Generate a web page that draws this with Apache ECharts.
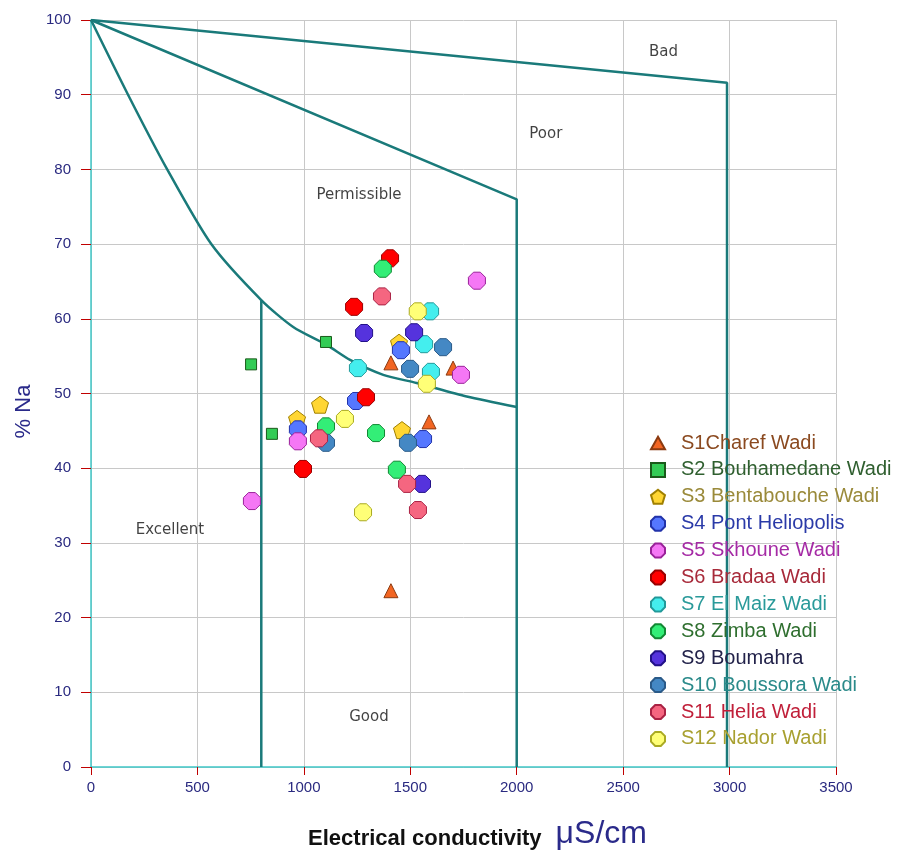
<!DOCTYPE html>
<html>
<head>
<meta charset="utf-8">
<script src="https://cdn.jsdelivr.net/npm/echarts@6/dist/echarts.min.js"></script>
<style>
html,body{margin:0;padding:0;background:#fff;}
#main{width:917px;height:852px;}
</style>
</head>
<body>
<div id="main"></div>
<script>
var chart = echarts.init(document.getElementById('main'));

// series names
var names = ['S1Charef Wadi','S2 Bouhamedane Wadi','S3 Bentabouche Wadi','S4 Pont Heliopolis',
  'S5 Skhoune Wadi','S6 Bradaa Wadi','S7 El Maiz Wadi','S8 Zimba Wadi','S9 Boumahra',
  'S10 Boussora Wadi','S11 Helia Wadi','S12 Nador Wadi'];

// [EC, %Na] for every station
var s1 = [[1409,54.1],[1701,53.4],[1588,46.2],[1409,23.6]];
var s2 = [[752,53.9],[1104,56.9],[850,44.6]];
var s3 = [[1447,56.8],[1076,48.5],[968,46.6],[1461,45.1]];
var s4 = [[1456,55.8],[1245,49.0],[972,45.2],[1560,43.9]];
var s5 = [[1813,65.1],[1738,52.5],[972,43.6],[756,35.6]];
var s6 = [[1405,68.1],[1236,61.6],[1292,49.5],[996,39.9]];
var s7 = [[1593,61.0],[1565,56.6],[1254,53.4],[1597,52.9]];
var s8 = [[1371,66.7],[1104,45.6],[1339,44.7],[1437,39.8]];
var s9 = [[1283,58.1],[1518,58.2],[1555,37.9]];
var s10 = [[1654,56.2],[1499,53.3],[1104,43.4],[1489,43.4]];
var s11 = [[1367,63.0],[1071,44.0],[1485,37.9],[1536,34.4]];
var s12 = [[1535,61.0],[1578,51.3],[1193,46.6],[1278,34.1]];
var stations = [s1,s2,s3,s4,s5,s6,s7,s8,s9,s10,s11,s12];

// Wilcox class boundaries
var lineBad = [[0,100],[2988,91.6],[2988,0]];
var linePoor = [[0,100],[2000,76],[2000,0]];
var curvePerm = [[0,100],[174,90],[358,80],[565,70],[800,62.5],[950,58.9],[1107,56.5],
  [1217,54.5],[1373,52.5],[1530,51.4],[1765,49.6],[2000,48.2]];
var lineGood = [[800,62.5],[800,0]];

// class names
var zones = [[2690,95.7,'Bad'],[2137,84.7,'Poor'],[1259,76.6,'Permissible'],[371,31.7,'Excellent'],[1306,6.7,'Good']];

var octa = 'path://M30,0 L70,0 L100,30 L100,70 L70,100 L30,100 L0,70 L0,30 Z';
var penta = 'path://M50,0 L100,38 L81,100 L19,100 L0,38 Z';
var tri = 'path://M50,0 L100,90 L0,90 Z';
var square = 'path://M0,0 L100,0 L100,100 L0,100 Z';
var symbols = [tri,square,penta,octa,octa,octa,octa,octa,octa,octa,octa,octa];
var sizes = [14,11,17,17,17,17,17,17,17,17,17,17];
var fills = ['#f26522','#33cc55','#ffd633','#5577ff','#f577f5','#ff0000','#44eeee','#33ee77','#5533dd','#4488c4','#f56680','#ffff77'];
var borders = ['#8b3a10','#1a5a1a','#a08000','#2233aa','#992299','#990000','#229999','#118833','#221188','#2a5a88','#aa2244','#aaaa22'];
var textColors = ['#8b4a20','#2f5f2f','#9a8a3a','#2a3aa8','#a52aa5','#a82a3a','#2a9a9a','#2f6f2f','#22224a','#2a8a8a','#c0203a','#a8a030'];

var series = [];
[[lineBad, false], [linePoor, false], [curvePerm, 0.25], [lineGood, false]].forEach(function (d) {
  series.push({
    type: 'line', data: d[0], smooth: d[1], symbol: 'none', silent: true, z: 1,
    lineStyle: {color: '#1a7a7a', width: 2.5}
  });
});
series.push({
  type: 'scatter', silent: true, symbolSize: 0, z: 1,
  data: zones.map(function (z) { return [z[0], z[1], z[2]]; }),
  label: {show: true, position: 'inside', formatter: function (p) { return p.data[2]; },
    color: '#111', fontSize: 15, fontFamily: 'DejaVu Sans, sans-serif'}
});
stations.forEach(function (d, i) {
  series.push({
    name: names[i], type: 'scatter', data: d, symbol: symbols[i], symbolSize: sizes[i], z: 3,
    itemStyle: {color: fills[i], borderColor: borders[i], borderWidth: 1, opacity: 1}
  });
});

var option = {
  backgroundColor: '#fff',
  animation: false,
  grid: {left: 91, right: 81, top: 20, bottom: 85, containLabel: false, outerBoundsMode: 'none'},
  legend: {
    orient: 'vertical', left: 650, top: 433, padding: 0, itemGap: 6.9, itemWidth: 14, itemHeight: 14,
    textStyle: {fontSize: 20, fontFamily: 'Liberation Sans, Arial, sans-serif', padding: [0, 0, 0, 11]},
    data: names.map(function (n, i) { return {name: n, textStyle: {color: textColors[i]}}; })
  },
  xAxis: {
    type: 'value', min: 0, max: 3500, interval: 500,
    name: '{a|Electrical conductivity}{b|μS/cm}', nameLocation: 'middle', nameGap: 51,
    nameTextStyle: {rich: {
      a: {fontSize: 22, fontWeight: 'bold', color: '#111', fontFamily: 'Liberation Sans, Arial, sans-serif',
        verticalAlign: 'bottom', padding: [0, 0, 0, 28]},
      b: {fontSize: 32, color: '#2a2a8a', fontFamily: 'Liberation Sans, Arial, sans-serif',
        verticalAlign: 'bottom', padding: [0, 0, 0, 14]}
    }},
    axisLine: {onZero: false, lineStyle: {color: '#40c8c8', width: 1.5}},
    axisTick: {show: true, length: 8, lineStyle: {color: '#c00000'}},
    axisLabel: {color: '#2a2a80', fontSize: 15, margin: 13, fontFamily: 'Liberation Sans, Arial, sans-serif',
      formatter: function (v) { return String(v); }},
    splitLine: {show: true, lineStyle: {color: '#c8c8c8'}}
  },
  yAxis: {
    type: 'value', min: 0, max: 100, interval: 10,
    name: '% Na', nameLocation: 'middle', nameGap: 56, nameRotate: 90,
    nameTextStyle: {fontSize: 22, color: '#2a2a8a', fontFamily: 'Liberation Sans, Arial, sans-serif',
      padding: [0, 36, 0, 0]},
    axisLine: {show: true, onZero: false, lineStyle: {color: '#40c8c8', width: 1.5}},
    axisTick: {show: true, length: 10, lineStyle: {color: '#c00000'}},
    axisLabel: {color: '#2a2a80', fontSize: 15, margin: 20, fontFamily: 'Liberation Sans, Arial, sans-serif'},
    splitLine: {show: true, lineStyle: {color: '#c8c8c8'}}
  },
  series: series
};

chart.setOption(option);
</script>
</body>
</html>
